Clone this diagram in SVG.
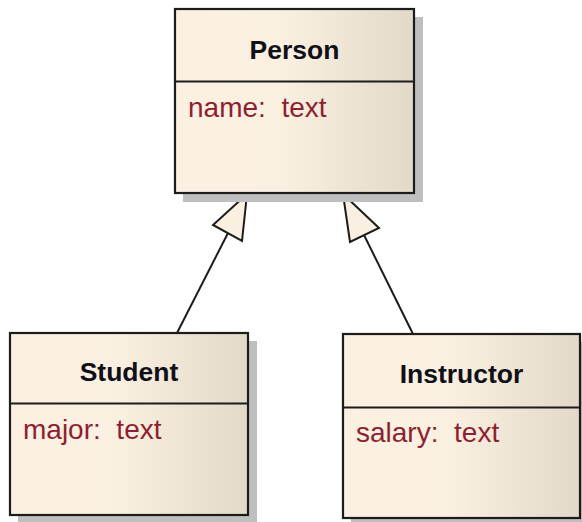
<svg xmlns="http://www.w3.org/2000/svg" width="582" height="522" viewBox="0 0 582 522">
  <defs>
    <linearGradient id="classFill" x1="0" y1="0" x2="1" y2="0">
      <stop offset="0" stop-color="#fbf0e1"/>
      <stop offset="0.45" stop-color="#faf0e1"/>
      <stop offset="1" stop-color="#e2d9c8"/>
    </linearGradient>
  </defs>
  <style>
    .shadow { fill: #bfbfbf; }
    .box { fill: url(#classFill); stroke: #1c1c1c; stroke-width: 2.2; }
    .divider { stroke: #1c1c1c; stroke-width: 2.2; }
    .title { font-family: "Liberation Sans", Arial, sans-serif; font-weight: bold; font-size: 26.5px; fill: #101018; text-anchor: middle; }
    .attr { font-family: "Liberation Sans", Arial, sans-serif; font-size: 28px; fill: #8e1f30; white-space: pre; }
    .edge { stroke: #1c1c1c; stroke-width: 2; fill: none; }
    .head { fill: #faf0e1; stroke: #1c1c1c; stroke-width: 2; stroke-linejoin: miter; }
  </style>

  <!-- generalization connectors -->
  <g id="connectors">
    <g id="student-to-person">
      <line class="edge" x1="177" y1="333" x2="228" y2="233"/>
      <polygon class="head" points="247,194 213,225 242,241"/>
    </g>
    <g id="instructor-to-person">
      <line class="edge" x1="413" y1="334" x2="364" y2="235"/>
      <polygon class="head" points="343,194 350,242 379,228"/>
    </g>
  </g>

  <!-- Person class -->
  <g id="person">
    <rect class="shadow" x="183" y="17" width="240" height="185"/>
    <rect class="box" x="175" y="9" width="239" height="184"/>
    <line class="divider" x1="175" y1="81.5" x2="414" y2="81.5"/>
    <text class="title" x="294.5" y="59">Person</text>
    <text class="attr" x="188" y="117">name:  text</text>
  </g>

  <!-- Student class -->
  <g id="student">
    <rect class="shadow" x="18" y="341" width="239" height="182"/>
    <rect class="box" x="10" y="333" width="238" height="182"/>
    <line class="divider" x1="10" y1="403.5" x2="248" y2="403.5"/>
    <text class="title" x="129" y="381">Student</text>
    <text class="attr" x="23" y="439">major:  text</text>
  </g>

  <!-- Instructor class -->
  <g id="instructor">
    <rect class="shadow" x="351" y="342" width="240" height="184"/>
    <rect class="box" x="343" y="334" width="237" height="184"/>
    <line class="divider" x1="343" y1="407.5" x2="580" y2="407.5"/>
    <text class="title" x="461.5" y="383">Instructor</text>
    <text class="attr" x="356" y="442">salary:  text</text>
  </g>
</svg>
